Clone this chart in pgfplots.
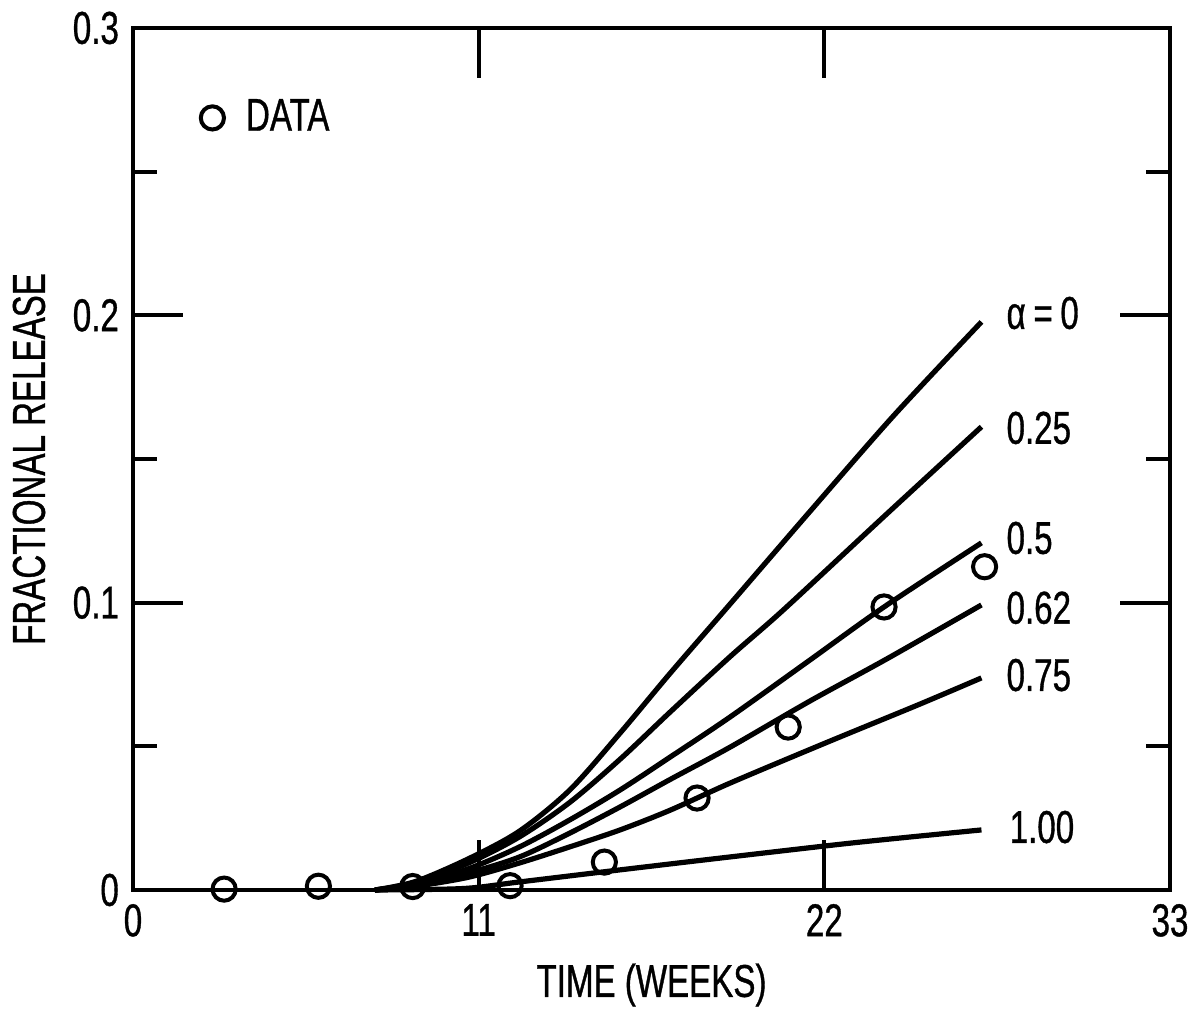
\documentclass[border=0pt]{standalone}
\usepackage{fontspec}
\setmainfont[FakeStretch=0.72, FakeBold=0.8]{Liberation Sans}
\usepackage{pgfplots}
\pgfplotsset{compat=1.18}

% fractional release vs time, curves for several alpha
\pgfplotstableread{
x y
2.9 0.0003
5.9 0.0013
8.9 0.0012
12.0 0.0015
15.0 0.0097
17.95 0.032
20.85 0.0567
23.9 0.0985
27.1 0.1125
}\data

\begin{document}
\begin{tikzpicture}[font=\fontsize{11.5}{13}\selectfont]
\begin{axis}[
  scale only axis, width=259.25pt, height=215.5pt,
  xmin=0, xmax=33, ymin=0, ymax=0.3,
  axis line style={line width=1pt},
  tick style={line width=1pt, black},
  tick align=inside, tick pos=both,
  major tick length=12.5pt, minor tick length=6pt,
  xtick={0,11,22,33}, xticklabels={0,11,22,33},
  ytick={0,0.1,0.2,0.3}, yticklabels={0,0.1,0.2,0.3},
  minor ytick={0.05,0.15,0.25},
  xlabel={TIME (WEEKS)}, ylabel={FRACTIONAL RELEASE},
  xlabel style={at={(axis description cs:0.5,-0.1102)}, anchor=center},
  ylabel style={at={(axis description cs:-0.1003,0.5)}, anchor=center},
  clip=false,
  legend style={draw=none, fill=none, at={(axis cs:1.75,0.2687)}, anchor=west,
    /tikz/every odd column/.append style={column sep=3.5pt}},
  every axis plot/.append style={line width=1.3pt, black},
]
\addplot[smooth, tension=0.5, forget plot] coordinates {
(7.7,0) (9.0,0.003) (10.7,0.011) (12.3,0.0205) (13.9,0.0348) (15.5,0.0546)
(17.1,0.0755) (19.0,0.0995) (21.5,0.1312) (24.2,0.1650) (27.0,0.1977)};
\addplot[smooth, tension=0.5, forget plot] coordinates {
(7.7,0) (9.0,0.0025) (10.7,0.0095) (12.3,0.0185) (13.9,0.0305) (15.5,0.0455)
(17.1,0.062) (19.0,0.0812) (20.7,0.0975) (23.9,0.13) (27.0,0.1612)};
\addplot[smooth, tension=0.5, forget plot] coordinates {
(7.7,0) (9.0,0.002) (10.7,0.0075) (12.3,0.015) (13.9,0.0244) (15.5,0.0348)
(17.1,0.0463) (19.0,0.0602) (21.5,0.0797) (23.9,0.0985) (27.0,0.1208)};
\addplot[smooth, tension=0.5, forget plot] coordinates {
(7.7,0) (9.0,0.0017) (10.7,0.006) (12.3,0.0115) (13.9,0.0198) (15.5,0.0289)
(17.1,0.0385) (19.0,0.0497) (21.5,0.0655) (24.0,0.0805) (27.0,0.0992)};
\addplot[smooth, tension=0.5, forget plot] coordinates {
(7.7,0) (9.0,0.0013) (10.7,0.0045) (12.3,0.0094) (13.9,0.015) (15.5,0.0209)
(17.1,0.0278) (19.0,0.0372) (22,0.051) (25,0.0645) (27.0,0.0738)};
\addplot[smooth, tension=0.5, forget plot] coordinates {
(7.7,0) (10.5,0.0005) (12.3,0.0028) (15.5,0.007) (19.0,0.0115) (23,0.0165) (27.0,0.0209)};
\addplot[only marks, mark=o, mark size=2.9pt, mark options={line width=1pt, fill=white}]
  table[x=x, y=y] {\data};
\addlegendentry{DATA}

\node[anchor=west] at (axis cs:27.35,0.2008) {α\,=\,0};
\node[anchor=west] at (axis cs:27.35,0.1608) {0.25};
\node[anchor=west] at (axis cs:27.35,0.1225) {0.5};
\node[anchor=west] at (axis cs:27.35,0.0982) {0.62};
\node[anchor=west] at (axis cs:27.35,0.0748) {0.75};
\node[anchor=west] at (axis cs:27.45,0.0219) {1.00};
\end{axis}
\pgfresetboundingbox
\path ([xshift=-33.25pt,yshift=-30pt]current axis.south west)
  rectangle ([xshift=6.5pt,yshift=7pt]current axis.north east);
\end{tikzpicture}
\end{document}
